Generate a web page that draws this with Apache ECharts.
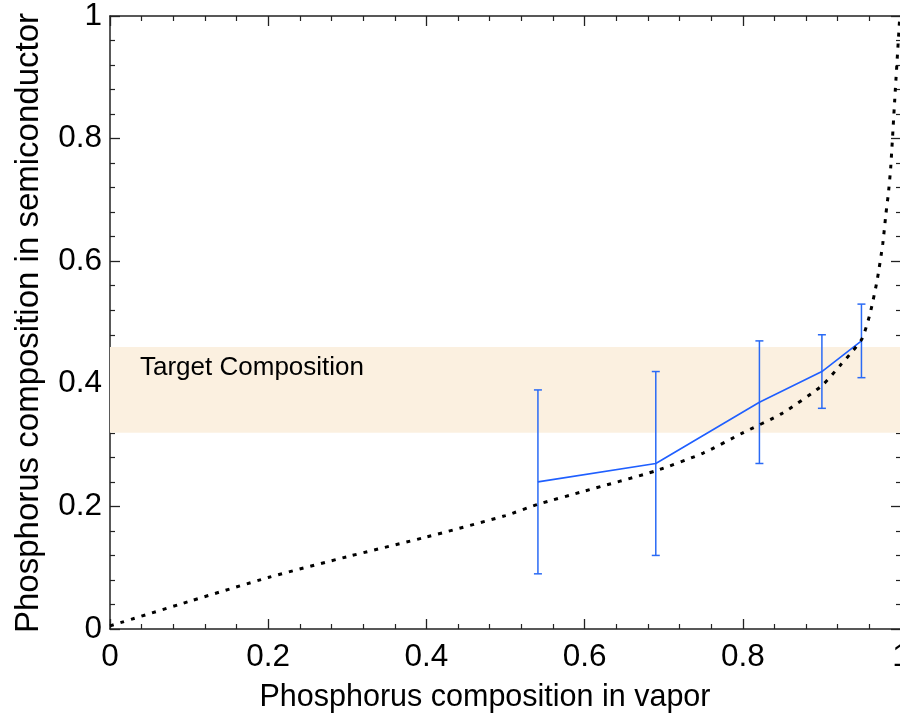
<!DOCTYPE html>
<html>
<head>
<meta charset="utf-8">
<script src="https://cdn.jsdelivr.net/npm/echarts@6/dist/echarts.min.js"></script>
<style>
  html, body { margin: 0; padding: 0; background: #ffffff; }
  #chart { width: 900px; height: 721px; }
</style>
</head>
<body>
<div id="chart"></div>
<script>
// Measured samples: vapor fraction vs. incorporated phosphorus fraction
const vaporX   = [0.541, 0.690, 0.821, 0.900, 0.950];
const solidY   = [0.24, 0.27, 0.37, 0.42, 0.47];
const errLow   = [0.09, 0.12, 0.27, 0.36, 0.41];
const errHigh  = [0.39, 0.42, 0.47, 0.48, 0.53];

// Equilibrium model curve (dotted)
const modelX = [0, 0.1, 0.2, 0.3, 0.4, 0.5, 0.54, 0.6, 0.69, 0.75, 0.8, 0.85, 0.9, 0.923, 0.938, 0.951,
                0.961, 0.970, 0.977, 0.981, 0.984, 0.987, 0.992, 0.9985];
const modelY = [0.005, 0.045, 0.084, 0.118, 0.15, 0.185, 0.203, 0.225, 0.258, 0.287, 0.32, 0.352, 0.397, 0.43, 0.452, 0.474,
                0.515, 0.57, 0.629, 0.678, 0.71, 0.753, 0.862, 1.0];

// Target composition window
const targetBand = [0.32, 0.46];
const targetLabel = 'Target Composition';

const xTitle = 'Phosphorus composition in vapor';
const yTitle = 'Phosphorus composition in semiconductor';

const FONT = '"Liberation Sans", Helvetica, Arial, sans-serif';
const AXIS_COLOR = '#222222';
const BLUE = '#1f5fff';

const chart = echarts.init(document.getElementById('chart'), null, { renderer: 'canvas' });

function axisBase(extra) {
  return Object.assign({
    type: 'value',
    min: 0,
    max: 1,
    interval: 0.2,
    axisLine: { show: true, onZero: false, lineStyle: { color: AXIS_COLOR, width: 1.5 } },
    axisTick: { show: true, inside: true, length: 10, lineStyle: { color: AXIS_COLOR, width: 1.3 } },
    minorTick: { show: true, splitNumber: 5, length: 5, lineStyle: { color: AXIS_COLOR, width: 1.2 } },
    splitLine: { show: false },
    minorSplitLine: { show: false }
  }, extra);
}

const labelStyle = { show: true, color: '#000', fontSize: 31.5, fontFamily: FONT };

const option = {
  animation: false,
  backgroundColor: '#ffffff',
  grid: { left: 110, right: -1, top: 16, bottom: 92, containLabel: false, outerBoundsMode: 'none' },
  xAxis: [
    axisBase({ position: 'bottom', axisLabel: Object.assign({ margin: 12 }, labelStyle) }),
    axisBase({ position: 'top', axisLabel: { show: false } })
  ],
  yAxis: [
    axisBase({ position: 'left', axisLabel: Object.assign({ margin: 8 }, labelStyle) }),
    axisBase({ position: 'right', axisLabel: { show: false } })
  ],
  graphic: [
    {
      type: 'text',
      x: 485, y: 698,
      style: { text: xTitle, fill: '#000', font: '30.5px ' + FONT, textAlign: 'center', textVerticalAlign: 'middle' }
    },
    {
      type: 'text',
      x: 29, y: 323,
      rotation: Math.PI / 2,
      style: { text: yTitle, fill: '#000', font: '33px ' + FONT, textAlign: 'center', textVerticalAlign: 'middle' }
    }
  ],
  series: [
    {
      // target band behind everything
      type: 'line',
      data: [],
      silent: true,
      z: 1,
      markArea: {
        silent: true,
        itemStyle: { color: '#fbf0e0' },
        label: {
          show: true,
          position: [30, 8],
          color: '#000',
          fontSize: 26,
          fontFamily: FONT
        },
        data: [[{ yAxis: targetBand[0], name: targetLabel, xAxis: 0 }, { yAxis: targetBand[1], xAxis: 1 }]]
      }
    },
    {
      type: 'custom',
      z: 3,
      data: vaporX.map((x, i) => [x, errLow[i], errHigh[i]]),
      renderItem: function (params, api) {
        const x = api.value(0);
        const lo = api.coord([x, api.value(1)]);
        const hi = api.coord([x, api.value(2)]);
        const cap = 4;
        const st = { stroke: '#2a6af5', lineWidth: 1.5, fill: 'none' };
        return {
          type: 'group',
          children: [
            { type: 'line', shape: { x1: lo[0], y1: lo[1], x2: hi[0], y2: hi[1] }, style: st },
            { type: 'line', shape: { x1: lo[0] - cap, y1: lo[1], x2: lo[0] + cap, y2: lo[1] }, style: st },
            { type: 'line', shape: { x1: hi[0] - cap, y1: hi[1], x2: hi[0] + cap, y2: hi[1] }, style: st }
          ]
        };
      }
    },
    {
      type: 'line',
      z: 4,
      data: vaporX.map((x, i) => [x, solidY[i]]),
      symbol: 'none',
      lineStyle: { color: BLUE, width: 1.6 }
    },
    {
      type: 'line',
      z: 5,
      data: modelX.map((x, i) => [x, modelY[i]]),
      symbol: 'none',
      smooth: 0.2,
      lineStyle: { color: '#000', width: 3, type: [4, 7], cap: 'butt' }
    }
  ]
};

chart.setOption(option);
</script>
</body>
</html>
